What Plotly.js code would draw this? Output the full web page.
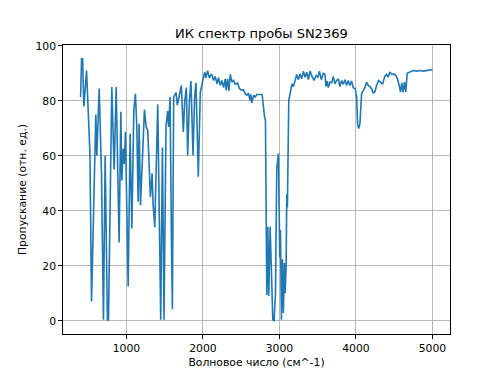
<!DOCTYPE html>
<html>
<head>
<meta charset="utf-8">
<script src="https://cdn.plot.ly/plotly-3.0.1.min.js"></script>
<style>html,body{margin:0;padding:0;background:#fff;}#chart{width:500px;height:375px;}</style>
</head>
<body>
<div id="chart"></div>
<script>
const wavenumber = [400,413,426,443,478,495,522,543,599,612,643,673,699,721,751,765,808,839,865,904,926,939,957,970,987,1022,1048,1070,1096,1117,1135,1152,1165,1183,1204,1235,1257,1278,1313,1335,1348,1370,1409,1448,1470,1491,1517,1539,1552,1570,1587,1600,1617,1648,1665,1696,1717,1743,1761,1783,1800,1822,1843,1870,1891,1909,1939,1965,1978,2000,2022,2039,2061,2083,2113,2139,2161,2183,2204,2226,2248,2270,2291,2304,2322,2339,2357,2378,2400,2422,2452,2478,2509,2530,2552,2574,2596,2613,2626,2639,2661,2683,2704,2748,2774,2804,2817,2835,2848,2861,2878,2896,2913,2930,2948,2965,2987,3004,3013,3026,3039,3052,3065,3074,3087,3096,3104,3122,3139,3152,3165,3183,3204,3226,3248,3270,3291,3313,3335,3357,3378,3400,3426,3452,3478,3504,3522,3548,3574,3596,3609,3626,3639,3661,3683,3704,3726,3748,3770,3791,3813,3835,3857,3878,3900,3922,3943,3965,3991,4009,4022,4035,4052,4074,4096,4117,4139,4161,4183,4204,4226,4248,4270,4296,4322,4348,4378,4400,4422,4443,4470,4496,4522,4543,4565,4583,4600,4617,4635,4652,4670,4704,4748,4791,4835,4878,4922,4965,5000];
const transmittance = [81.4,95.3,95.3,78,91,81,61,7,75,60,84.5,54,0.4,60,0,0.5,85,55,85,28.5,76,51,62.6,57,68.7,12.5,68,33.6,76.5,82.6,70.5,43.3,71.7,42,54,76.8,70.5,69.3,45,53.6,42.4,34,78.7,0.4,63,0.4,70.7,76.3,70.5,81.4,31.8,4.2,81.4,83,78.4,82,85.6,68.7,79.6,84.8,60.2,79.6,87.2,60.2,81.4,86.5,52.4,83,84.8,87.4,90.5,88.4,91,88.4,89.8,87.4,88.9,86.2,88.4,85.6,87.4,84.8,88,83.8,88,83.6,89.6,86.8,87.4,86,86.5,84.4,83.8,84,82.6,82,82.8,80.2,82.3,79.2,82,81.4,82.3,82.3,82.3,74.4,73,9.4,34.2,9,34.2,17.3,0.4,0.1,10,55.4,60.8,23,33,0.4,22.4,2.8,21,10,19.7,46,41.2,80.2,82.6,83.2,86.2,85.2,88,89.6,87.7,89.8,88,90.8,88.6,90.4,87.7,90.8,88.9,87.4,89.2,88.6,90.8,87.7,90,89.6,85.2,87.2,84.8,86.8,86.5,88.9,86.2,87.4,88,85.2,87.4,86,87.7,85.6,87.4,85.6,87.2,84.8,84.4,81.4,71.5,69.9,71.5,82.6,83.8,84.8,86.8,85.6,85.2,84.4,82.8,83.2,85.6,87.4,86.8,86,88.9,89.6,88.6,90.5,89.6,89.8,89.2,88,85.6,83.2,86.5,83.2,86.8,83.2,90,90.5,91,90.8,91,90.8,91,91,91.3];
const xTicks = [1000,2000,3000,4000,5000];
const yTicks = [0,20,40,60,80,100];

const font = {family: 'DejaVu Sans, sans-serif', size: 10.8, color: '#000'};
Plotly.newPlot('chart', [{
  x: wavenumber, y: transmittance, type: 'scatter', mode: 'lines',
  line: {color: '#1f77b4', width: 1.6}
}], {
  width: 500, height: 375,
  margin: {l: 62.5, r: 50, t: 45, b: 41},
  paper_bgcolor: '#fff', plot_bgcolor: '#fff',
  font: font,
  showlegend: false,
  title: {text: 'ИК спектр пробы SN2369', font: {family: 'DejaVu Sans, sans-serif', size: 13, color: '#000'},
          x: 0.5125, xref: 'paper', y: 1 - 33/375, yref: 'container', yanchor: 'middle'},
  xaxis: {range: [170, 5230], tickvals: xTicks, ticktext: xTicks.map(String),
          showgrid: true, gridcolor: '#b0b0b0', gridwidth: 0.9,
          showline: true, linecolor: '#000', linewidth: 1, mirror: true,
          ticks: 'outside', ticklen: 3.8, tickcolor: '#000', zeroline: false,
          title: {text: 'Волновое число (см^-1)', font: font, standoff: 4}},
  yaxis: {range: [-4.8, 100.3], tickvals: yTicks, ticktext: yTicks.map(String),
          showgrid: true, gridcolor: '#b0b0b0', gridwidth: 0.9,
          showline: true, linecolor: '#000', linewidth: 1, mirror: true,
          ticks: 'outside', ticklen: 3.8, tickcolor: '#000', zeroline: false,
          title: {text: 'Пропускание (отн. ед.)', font: font, standoff: 6}}
}, {displayModeBar: false, staticPlot: true});
</script>
</body>
</html>
